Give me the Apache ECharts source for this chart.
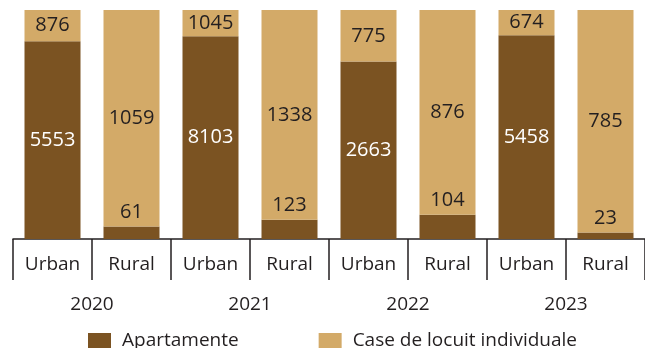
<!DOCTYPE html>
<html>
<head>
<meta charset="utf-8">
<script src="https://cdn.jsdelivr.net/npm/echarts@6/dist/echarts.min.js"></script>
<style>
  html, body { margin: 0; padding: 0; background: #ffffff; }
  #chart { width: 645px; height: 348px; }
</style>
</head>
<body>
<div id="chart"></div>
<script>
// Housing completions by type, urban vs rural, per year
const categories = ['Urban', 'Rural', 'Urban', 'Rural', 'Urban', 'Rural', 'Urban', 'Rural'];
const years = ['2020', '2021', '2022', '2023'];
const apartamente = [5553, 61, 8103, 123, 2663, 104, 5458, 23];
const caseIndividuale = [876, 1059, 1045, 1338, 775, 876, 674, 785];
const seriesNames = ['Apartamente', 'Case de locuit individuale'];

const DARK = '#7b5322';
const LIGHT = '#d3aa68';
const TEXT = '#231f20';
const FONT = 'Open Sans';

// Each column is shown as shares of its own total (100% stacked)
const totals = apartamente.map((a, i) => a + caseIndividuale[i]);
const share = (v, i) => v / totals[i] * 100;

const apartData = apartamente.map((v, i) => {
  const urban = categories[i] === 'Urban';
  return {
    value: share(v, i),
    raw: v,
    label: urban
      ? { position: 'inside', color: '#ffffff' }
      : { position: 'top', color: TEXT, distance: 4 }
  };
});
const caseData = caseIndividuale.map((v, i) => ({ value: share(v, i), raw: v }));

const chart = echarts.init(document.getElementById('chart'), null, { renderer: 'canvas' });
chart.setOption({
  animation: false,
  textStyle: { fontFamily: FONT },
  grid: { left: 13, right: 0, top: 10, bottom: 109, containLabel: false },
  legend: {
    data: seriesNames,
    left: 88,
    top: 331,
    padding: 0,
    itemWidth: 23,
    itemHeight: 15,
    itemGap: 80,
    icon: 'rect',
    textStyle: { fontFamily: FONT, fontSize: 19, color: TEXT, padding: [0, 0, 0, 6] }
  },
  xAxis: [
    {
      type: 'category',
      data: categories,
      position: 'bottom',
      axisLine: { show: true, lineStyle: { color: TEXT, width: 1.5 } },
      axisTick: { show: true, interval: 0, length: 41, lineStyle: { color: TEXT, width: 1.5 } },
      axisLabel: { interval: 0, margin: 16, fontFamily: FONT, fontSize: 19, color: TEXT }
    },
    {
      type: 'category',
      data: years,
      position: 'bottom',
      axisLine: { show: false },
      axisTick: { show: false },
      axisLabel: { interval: 0, margin: 56, fontFamily: FONT, fontSize: 19, color: TEXT }
    }
  ],
  yAxis: { type: 'value', min: 0, max: 100, show: false },
  series: [
    {
      name: seriesNames[0],
      type: 'bar',
      stack: 'total',
      xAxisIndex: 0,
      barWidth: 56,
      itemStyle: { color: DARK },
      label: {
        show: true,
        fontFamily: FONT,
        fontSize: 20,
        formatter: p => String(p.data.raw)
      },
      data: apartData
    },
    {
      name: seriesNames[1],
      type: 'bar',
      stack: 'total',
      xAxisIndex: 0,
      barWidth: 56,
      itemStyle: { color: LIGHT },
      label: {
        show: true,
        position: 'inside',
        fontFamily: FONT,
        fontSize: 20,
        color: TEXT,
        formatter: p => String(p.data.raw)
      },
      data: caseData
    }
  ]
});
</script>
</body>
</html>
